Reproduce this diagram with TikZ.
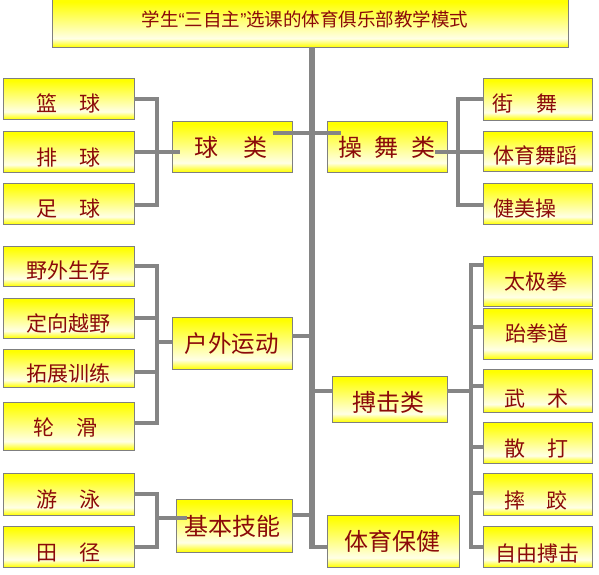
\documentclass[tikz,border=0pt]{standalone}
\usepackage{fontspec}
\setmainfont{Noto Sans CJK SC}
\newfontfamily\qfont{Liberation Sans}
\usetikzlibrary{calc}
\definecolor{yel}{HTML}{FFFF00}
\definecolor{pale}{HTML}{FFFFE6}
\definecolor{txtred}{HTML}{8B0A0A}
\definecolor{bordergray}{HTML}{7F7F7F}
\definecolor{conngray}{HTML}{858585}
\pgfdeclareverticalshading{ybox}{100bp}{color(0bp)=(yel); color(25bp)=(yel); color(34bp)=(pale); color(72bp)=(yel); color(100bp)=(yel)}
\tikzset{
  box/.style={draw=bordergray, line width=0.9pt, shade, shading=ybox, inner sep=0pt, outer sep=0pt,
    text=txtred, text height=0pt, text depth=0pt},
  conn/.style={draw=conngray, line width=3.8pt},
  trunkline/.style={draw=conngray, line width=6.5pt}
}
\newcommand\bx[9]{\node[box,minimum width=#4pt,minimum height=#5pt,font=\fontsize{#8pt}{#8pt}\selectfont] (#1) at (#2,#3)
  {\makebox[0pt]{\hspace*{#6pt}\hspace*{#6pt}\raisebox{-0.37em}{\raisebox{-#7pt}{#9}}}};}
\begin{document}
\begin{tikzpicture}[x=1pt,y=-1pt]
\useasboundingbox (0,0) rectangle (599,574);
% title
\bx{title}{310}{23}{516}{48}{-5}{-3}{18.5}{学生{\qfont “}三自主{\qfont ”}选课的体育俱乐部教学模式}
% left column
\bx{lq}{68.5}{98.5}{131}{41}{0}{5.5}{21}{篮\hspace{23pt}球}
\bx{pq}{68.5}{151.5}{131}{41}{0}{6}{21}{排\hspace{23pt}球}
\bx{zq}{68.5}{203.5}{131}{41}{0}{5.5}{21}{足\hspace{23pt}球}
\bx{yw}{68.5}{266}{131}{40}{0}{5}{21}{野外生存}
\bx{dx}{68.5}{318}{131}{40}{0}{5.5}{21}{定向越野}
\bx{tz}{68.5}{368}{131}{38}{0}{6}{21}{拓展训练}
\bx{lh}{68.5}{426}{131}{48}{-3}{1.5}{21}{轮\hspace{22pt}滑}
\bx{yy}{68.5}{494}{131}{42}{0}{6}{21}{游\hspace{23pt}泳}
\bx{tj}{68.5}{546.5}{131}{41}{0}{6}{21}{田\hspace{22pt}径}
% middle left
\bx{qiu}{232}{146.5}{120}{51}{-1}{1.5}{24}{球\hspace{26pt}类}
\bx{hw}{232}{343}{120}{52}{-0.5}{1}{23.5}{户外运动}
\bx{jbjn}{234}{525.5}{116}{53}{-1.5}{1}{24}{基本技能}
% middle right
\bx{cw}{387}{146.5}{120}{51}{0}{1.5}{24}{操\hspace{13pt}舞\hspace{13pt}类}
\bx{bj}{389.5}{399}{115}{46}{-1}{3.5}{24}{搏击类}
\bx{tybj}{393}{541}{132}{52}{-1}{1}{24}{体育保健}
% right column
\bx{jw}{537.5}{99}{109}{42}{-12.5}{5}{21}{街\hspace{23pt}舞}
\bx{tywd}{537.5}{151}{109}{40}{-2}{5}{21}{体育舞蹈}
\bx{jmc}{537.5}{203.5}{109}{41}{-13}{5.5}{21}{健美操}
\bx{tjq}{537.5}{281}{109}{50}{-1.5}{1}{21}{太极拳}
\bx{tqd}{537.5}{333.5}{109}{51}{-1}{0.5}{21}{跆拳道}
\bx{ws}{537.5}{390.5}{109}{43}{-1}{8}{21}{武\hspace{22pt}术}
\bx{sd}{537.5}{442.5}{109}{41}{-1}{6}{21}{散\hspace{22pt}打}
\bx{sj}{537.5}{494}{109}{42}{-1.5}{7}{21}{摔\hspace{22pt}跤}
\bx{zy}{537.5}{546.5}{109}{41}{0}{7.5}{21}{自由搏击}
% junction coordinates
\coordinate (tb) at (312,547);
\coordinate (t1) at (312,133);
\coordinate (t2) at (312,336);
\coordinate (t3) at (312,391);
\coordinate (t4) at (312,515);
\coordinate (qa) at (157,99); \coordinate (qb) at (157,152); \coordinate (qc) at (157,205);
\coordinate (ca) at (458,99); \coordinate (cb) at (458,152); \coordinate (cc) at (458,205);
\coordinate (ha) at (157,266); \coordinate (hb) at (157,318); \coordinate (hc) at (157,372);
\coordinate (hd) at (157,423); \coordinate (hm) at (157,342);
\coordinate (ba) at (471,265); \coordinate (bb) at (471,327); \coordinate (bc) at (471,386);
\coordinate (bd) at (471,447); \coordinate (be) at (471,493); \coordinate (bf) at (471,547);
\coordinate (bm) at (471,391);
\coordinate (ja) at (157,494); \coordinate (jb) at (157,547); \coordinate (jm) at (157,518);
% trunk
\draw[trunkline] (title.south -| tb) -- ($(tb)+(0,1.9)$);
\draw[conn] (tb) -- (tybj.west |- tb);
% ball group
\draw[conn] (lq.east |- qa) -- (qa) -- (qc) -- (zq.east |- qc);
\draw[conn] (pq.east |- qb) -- (qb) -- ($(qb -| qiu.west)+(8,0)$);
\draw[conn] ($(t1 -| qiu.east)+(-19,0)$) -- (t1) -- ($(t1 -| cw.west)+(14,0)$);
% dance group
\draw[conn] (jw.west |- ca) -- (ca) -- (cc) -- (jmc.west |- cc);
\draw[conn] ($(cb -| cw.east)+(-12,0)$) -- (cb) -- (tywd.west |- cb);
% outdoor group
\draw[conn] (yw.east |- ha) -- (ha) -- (hd) -- (lh.east |- hd);
\draw[conn] (dx.east |- hb) -- (hb);
\draw[conn] (tz.east |- hc) -- (hc);
\draw[conn] (hm) -- (hm -| hw.west);
\draw[conn] (hw.east |- t2) -- (t2);
% combat group
\draw[conn] (t3) -- (t3 -| bj.west);
\draw[conn] (bj.east |- bm) -- (bm);
\draw[conn] (tjq.west |- ba) -- (ba) -- (bf) -- (zy.west |- bf);
\draw[conn] (bb) -- (tqd.west |- bb);
\draw[conn] (bc) -- (ws.west |- bc);
\draw[conn] (bd) -- (sd.west |- bd);
\draw[conn] (be) -- (sj.west |- be);
% basic skills group
\draw[conn] (yy.east |- ja) -- (ja) -- (jb) -- (tj.east |- jb);
\draw[conn] (jm) -- ($(jm -| jbjn.west)+(11,0)$);
\draw[conn] (jbjn.east |- t4) -- (t4);
\end{tikzpicture}
\end{document}
